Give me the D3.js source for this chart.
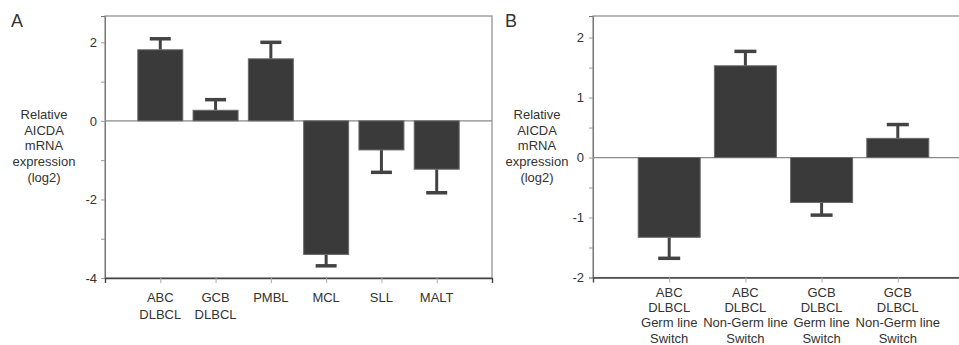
<!DOCTYPE html>
<html>
<head>
<meta charset="utf-8">
<script src="https://cdn.jsdelivr.net/npm/d3@7"></script>
<style>
  body { margin: 0; background: #fff; }
  svg text { font-family: "Liberation Sans", Arial, sans-serif; fill: #333; }
</style>
</head>
<body>
<svg id="chart" width="959" height="345"></svg>
<script>
// panel A data
const catsA = [["ABC", "DLBCL"], ["GCB", "DLBCL"], ["PMBL"], ["MCL"], ["SLL"], ["MALT"]];
const valsA = [1.81, 0.27, 1.58, -3.40, -0.74, -1.23];
const errA = [2.09, 0.54, 2.00, -3.69, -1.31, -1.83];
const ticksA = [2, 1, 0, -1, -2, -3, -4];
const tickLabelsA = [2, 0, -2, -4];

// panel B data
const catsB = [
  ["ABC", "DLBCL", "Germ line", "Switch"],
  ["ABC", "DLBCL", "Non-Germ line", "Switch"],
  ["GCB", "DLBCL", "Germ line", "Switch"],
  ["GCB", "DLBCL", "Non-Germ line", "Switch"]
];
const valsB = [-1.33, 1.53, -0.75, 0.32];
const errB = [-1.68, 1.77, -0.96, 0.55];
const ticksB = [2, 1.5, 1, 0.5, 0, -0.5, -1, -1.5, -2];
const tickLabelsB = [2, 1, 0, -1, -2];

const yTitle = ["Relative", "AICDA", "mRNA", "expression", "(log2)"];

const svg = d3.select("#chart");

function panel(opt) {
  const g = svg.append("g");
  const ids = opt.cats.map((c, i) => i);

  const x = d3.scalePoint().domain(ids).range([opt.left, opt.right]).padding(1);
  const y = d3.scaleLinear().domain(opt.domain).range([opt.bottom, opt.top]);

  // frame
  g.append("rect")
    .attr("x", opt.left).attr("y", opt.top)
    .attr("width", opt.right - opt.left).attr("height", opt.bottom - opt.top)
    .attr("fill", "none").attr("stroke", "#8a8a8a").attr("stroke-width", 1.2);

  // y axis
  const yAxis = g.append("g")
    .attr("transform", "translate(" + opt.left + ",0)")
    .call(d3.axisLeft(y).tickValues(opt.ticks).tickSize(4).tickPadding(opt.pad)
      .tickFormat(d => opt.labels.includes(d) ? String(d) : ""));
  yAxis.select(".domain").attr("stroke", "#777");
  yAxis.selectAll(".tick line").attr("stroke", "#999");
  yAxis.selectAll(".tick text").style("font-size", "13px").attr("fill", "#333");

  // x axis
  const xAxis = g.append("g")
    .attr("transform", "translate(0," + opt.bottom + ")")
    .call(d3.axisBottom(x).tickSize(5).tickFormat(""));
  xAxis.select(".domain").attr("stroke", "#444").attr("stroke-width", 1.4);
  xAxis.selectAll(".tick line").attr("stroke", "#aaa");

  // zero line
  g.append("line")
    .attr("x1", opt.left).attr("x2", opt.right)
    .attr("y1", y(0)).attr("y2", y(0))
    .attr("stroke", "#8a8a8a").attr("stroke-width", 1.2);

  // error bars
  const eb = g.selectAll(".eb").data(ids).enter().append("g");
  eb.append("line")
    .attr("x1", i => x(i)).attr("x2", i => x(i))
    .attr("y1", i => y(opt.vals[i])).attr("y2", i => y(opt.err[i]))
    .attr("stroke", "#434343").attr("stroke-width", 3);
  eb.append("line")
    .attr("x1", i => x(i) - opt.cap / 2).attr("x2", i => x(i) + opt.cap / 2)
    .attr("y1", i => y(opt.err[i])).attr("y2", i => y(opt.err[i]))
    .attr("stroke", "#434343").attr("stroke-width", 3.5);

  // bars
  g.selectAll(".bar").data(ids).enter().append("rect")
    .attr("x", i => x(i) - opt.bw / 2)
    .attr("width", opt.bw)
    .attr("y", i => y(Math.max(0, opt.vals[i])))
    .attr("height", i => Math.abs(y(opt.vals[i]) - y(0)))
    .attr("fill", "#3a3a3a")
    .attr("stroke", "#6a6a6a").attr("stroke-width", 1);

  // category labels
  const lab = g.selectAll(".lab").data(ids).enter().append("text")
    .attr("text-anchor", "middle")
    .style("font-size", "13px");
  lab.selectAll("tspan").data(i => opt.cats[i].map(t => ({ t: t, i: i }))).enter().append("tspan")
    .attr("x", d => x(d.i))
    .attr("y", (d, k) => opt.bottom + opt.labOff + k * opt.lineH)
    .text(d => d.t);

  // y title
  const yt = g.append("text").attr("text-anchor", "middle").style("font-size", "13px");
  yt.selectAll("tspan").data(yTitle).enter().append("tspan")
    .attr("x", opt.titleX)
    .attr("y", (d, k) => 119 + k * 15.7)
    .text(d => d);

  // panel letter
  g.append("text")
    .attr("x", opt.letterX).attr("y", 27)
    .style("font-size", "18px")
    .text(opt.letter);
}

panel({
  cats: catsA, vals: valsA, err: errA, ticks: ticksA, labels: tickLabelsA,
  left: 105, right: 492, top: 16, bottom: 278, domain: [-4, 2.67],
  bw: 45, cap: 21, pad: 4, labOff: 24, lineH: 16.5,
  titleX: 44, letter: "A", letterX: 11
});

panel({
  cats: catsB, vals: valsB, err: errB, ticks: ticksB, labels: tickLabelsB,
  left: 593, right: 974, top: 16, bottom: 277.5, domain: [-2, 2.36],
  bw: 62, cap: 22, pad: 5, labOff: 19.5, lineH: 15.2,
  titleX: 537, letter: "B", letterX: 505
});
</script>
</body>
</html>
